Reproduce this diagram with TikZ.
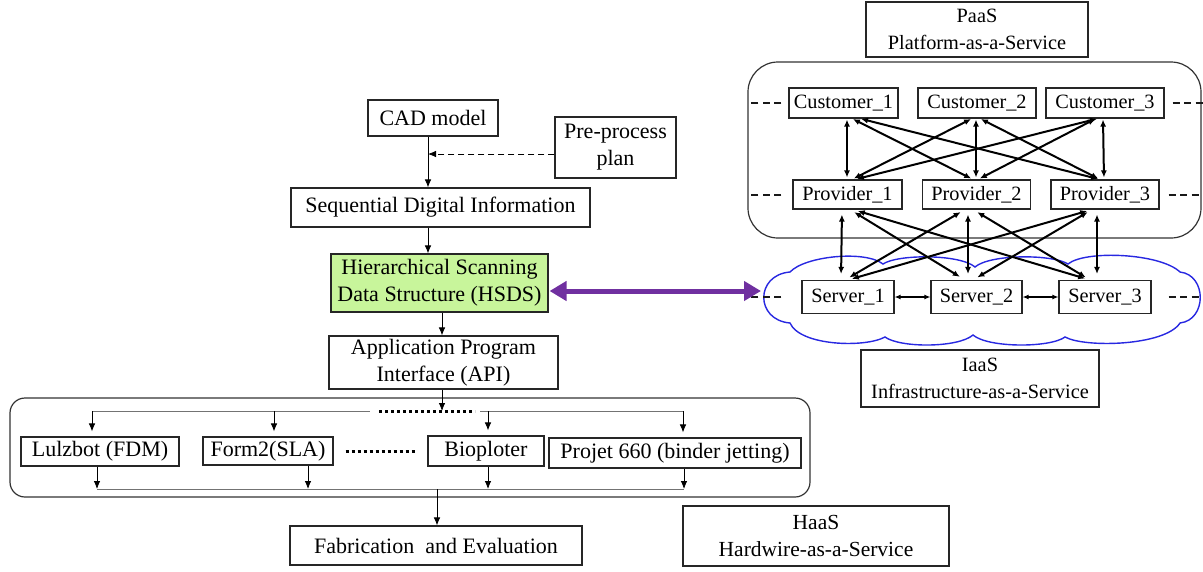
\documentclass[tikz,border=0pt]{standalone}
\usepackage{fontspec}
\setmainfont{Liberation Serif}
\usetikzlibrary{arrows.meta,calc}
\definecolor{hsdsgreen}{RGB}{200,245,155}
\definecolor{linkpurple}{RGB}{112,48,160}
\definecolor{cloudblue}{RGB}{40,40,225}
\begin{document}
\begin{tikzpicture}[x=1pt,y=-1pt,
  box/.style={draw=black!85,line width=1.1pt,inner sep=0pt,align=center,
    font=\fontsize{22}{27}\selectfont},
  rbox/.style={box,font=\fontsize{20.3}{27}\selectfont},
  container/.style={draw=black!80,line width=1.2pt},
  arr/.style={-{Latex[length=8pt,width=6.5pt]},line width=0.8pt,black},
  link/.style={{Latex[length=7pt,width=6pt]}-{Latex[length=7pt,width=6pt]},line width=2pt,black},
  srvlink/.style={{Latex[length=6pt,width=5pt]}-{Latex[length=6pt,width=5pt]},line width=1.2pt,black},
  bus/.style={line width=0.8pt,black!55},
  thickdot/.style={line width=3pt,dash pattern=on 3pt off 3pt},
  dashline/.style={line width=1.5pt,black!90,dash pattern=on 7pt off 4.5pt},
  purplelink/.style={{Triangle[length=17pt,width=19pt]}-{Triangle[length=17pt,width=19pt]},line width=5pt,linkpurple}]
\useasboundingbox (0,0) rectangle (1203,571);

% ---------- cloud (IaaS) ----------
\draw[cloudblue,line width=1.4pt,fill=white]
  (790,272) .. controls (805,256) and (865,250) .. (883,264)
  .. controls (898,254) and (960,254) .. (975,267)
  .. controls (990,254) and (1052,254) .. (1068,264)
  .. controls (1085,250) and (1160,253) .. (1180,272)
  .. controls (1207,275) and (1207,320) .. (1180,323)
  .. controls (1165,346) and (1085,348) .. (1065,337)
  .. controls (1050,348) and (988,348) .. (973,335)
  .. controls (958,348) and (900,348) .. (885,337)
  .. controls (865,348) and (800,346) .. (790,323)
  .. controls (755,320) and (755,275) .. cycle;

% ---------- PaaS container ----------
\draw[container,rounded corners=30pt] (748,62) rectangle (1201,238);

% ---------- right-hand nodes ----------
\node[rbox,minimum width=222pt,minimum height=55pt] (paas) at (977,29.5) {PaaS\\Platform-as-a-Service};
\node[rbox,minimum width=109pt,minimum height=30pt] (c1) at (843.5,103) {Customer\_1};
\node[rbox,minimum width=118pt,minimum height=30pt] (c2) at (977,103) {Customer\_2};
\node[rbox,minimum width=118pt,minimum height=30pt] (c3) at (1105,103) {Customer\_3};
\node[rbox,minimum width=109pt,minimum height=29pt] (p1) at (847.5,194.5) {Provider\_1};
\node[rbox,minimum width=108pt,minimum height=29pt] (p2) at (976.5,194.5) {Provider\_2};
\node[rbox,minimum width=108pt,minimum height=29pt] (p3) at (1105,194.5) {Provider\_3};
\node[rbox,minimum width=92pt,minimum height=33pt] (s1) at (848,297) {Server\_1};
\node[rbox,minimum width=91pt,minimum height=33pt] (s2) at (976.5,297) {Server\_2};
\node[rbox,minimum width=92pt,minimum height=33pt] (s3) at (1105,297) {Server\_3};
\node[rbox,minimum width=238pt,minimum height=57pt] (iaas) at (980,378.5) {IaaS\\Infrastructure-as-a-Service};
\node[box,font=\fontsize{21.5}{27}\selectfont,minimum width=266pt,minimum height=60pt] (haas) at (816,536) {HaaS\\Hardwire-as-a-Service};

% side dashes
\draw[dashline] ([xshift=-7pt]c1.west) -- ++(-30,0);
\draw[dashline] ([xshift=8pt]c3.east) -- ++(30,0);
\draw[dashline] ([xshift=-11pt,yshift=-0.5pt]p1.west) -- ++(-30,0);
\draw[dashline] ([xshift=9pt,yshift=-0.5pt]p3.east) -- ++(30,0);
\draw[dashline] ([xshift=-20pt]s1.west) -- ++(-30,0);
\draw[dashline] ([xshift=17pt]s3.east) -- ++(30,0);

% customer <-> provider
\draw[link,shorten <=1pt,shorten >=2pt] ([xshift=3.5pt]c1.south) -- ([xshift=-0.5pt]p1.north);
\draw[link,shorten <=1pt,shorten >=2pt] ([xshift=8.5pt]c1.south) -- ([xshift=-3.5pt]p2.north);
\draw[link,shorten <=1pt,shorten >=2pt] ([xshift=16.5pt]c1.south) -- ([xshift=-5pt]p3.north);
\draw[link,shorten <=1pt,shorten >=2pt] ([xshift=-5pt]c2.south) -- ([xshift=4.5pt]p1.north);
\draw[link,shorten <=1pt,shorten >=2pt] ([xshift=-1pt]c2.south) -- ([xshift=-0.5pt]p2.north);
\draw[link,shorten <=1pt,shorten >=2pt] ([xshift=3pt]c2.south) -- ([xshift=-5pt]p3.north);
\draw[link,shorten <=1pt,shorten >=2pt] ([xshift=-7pt]c3.south) -- ([xshift=7.5pt]p1.north);
\draw[link,shorten <=1pt,shorten >=2pt] ([xshift=-9pt]c3.south) -- ([xshift=1.5pt]p2.north);
\draw[link,shorten <=1pt,shorten >=2pt] ([xshift=-2pt]c3.south) -- ([xshift=-1pt]p3.north);

% provider <-> server
\draw[link,shorten <=5pt,shorten >=6pt] ([xshift=-5.5pt]p1.south) -- ([xshift=-7pt]s1.north);
\draw[link,shorten <=5pt,shorten >=6pt] ([xshift=2.5pt]p1.south) -- ([xshift=-11.5pt]s2.north);
\draw[link,shorten <=5pt,shorten >=5pt] ([xshift=5.5pt]p1.south) -- ([xshift=-15pt]s3.north);
\draw[link,shorten <=5pt,shorten >=5pt] ([xshift=-11.5pt]p2.south) -- ([xshift=-3pt]s1.north);
\draw[link,shorten <=5pt,shorten >=6pt] ([xshift=-8.5pt]p2.south) -- ([xshift=-8.5pt]s2.north);
\draw[link,shorten <=5pt,shorten >=5pt] ([xshift=-3.5pt]p2.south) -- ([xshift=-15pt]s3.north);
\draw[link,shorten <=5pt,shorten >=4pt] ([xshift=-13pt]p3.south) -- ([xshift=0pt]s1.north);
\draw[link,shorten <=5pt,shorten >=5pt] ([xshift=-13pt]p3.south) -- ([xshift=-3.5pt]s2.north);
\draw[link,shorten <=5pt,shorten >=6pt] ([xshift=-8pt]p3.south) -- ([xshift=-8pt]s3.north);

% server <-> server
\draw[srvlink] (s1.east) -- (s2.west);
\draw[srvlink] (s2.east) -- (s3.west);

% ---------- left-hand workflow ----------
\node[box,minimum width=130pt,minimum height=36pt] (cad) at (433,118) {CAD model};
\node[box,minimum width=121pt,minimum height=61pt] (pre) at (615.5,147.5) {Pre-process\\plan};
\node[box,minimum width=299pt,minimum height=39pt] (sdi) at (440.5,207.5) {Sequential Digital Information};
\node[box,fill=hsdsgreen,minimum width=217pt,minimum height=58pt] (hsds) at (439.5,283) {Hierarchical Scanning\\Data Structure (HSDS)};
\node[box,minimum width=229pt,minimum height=53pt] (api) at (443.5,362.5) {Application Program\\Interface (API)};

\draw[arr] ([xshift=-5pt]cad.south) -- ([xshift=-5pt]cad.south |- sdi.north);
\draw[arr,dash pattern=on 6pt off 4pt] ([yshift=-6.5pt]pre.west) -- ([xshift=-5pt,yshift=-6.5pt]cad.south |- pre.west);
\draw[arr] ([xshift=-12.5pt]sdi.south) -- ([xshift=-12.5pt]sdi.south |- hsds.north);
\draw[arr] ([xshift=2.5pt]hsds.south) -- ([xshift=2.5pt]hsds.south |- api.north);

% link to the cloud
\coordinate (cloudL) at (761,291);
\draw[purplelink,shorten <=1pt] ([yshift=-8pt]hsds.east) -- (cloudL);

% printers
\draw[container,rounded corners=15pt] (10,398) rectangle (810,497);
\node[box,minimum width=158pt,minimum height=29pt] (lulz) at (100,451.5) {Lulzbot (FDM)};
\node[box,minimum width=130pt,minimum height=28pt] (form) at (268,451) {Form2(SLA)};
\node[box,minimum width=116pt,minimum height=30pt] (bio) at (486,451) {Bioploter};
\node[box,minimum width=252pt,minimum height=30pt] (proj) at (675,453) {Projet 660 (binder jetting)};
\node[box,minimum width=292pt,minimum height=39pt] (fab) at (436,545.5) {Fabrication~ and Evaluation};

\coordinate (busL) at (92,411);
\coordinate (busF) at (274,411);
\coordinate (busA) at (370,411);
\coordinate (dotA) at (379,411);
\coordinate (dotB) at (475,411);
\coordinate (busB) at (480,411);
\coordinate (busBio) at (488,411);
\coordinate (busR) at (683,411);
\draw[bus] (busL) -- (busA);
\draw[bus] (busB) -- (busR);
\draw[thickdot] (dotA) -- (dotB);
\draw[arr] ([xshift=-1.5pt]api.south) -- ([xshift=-1.5pt]api.south |- busL);
\draw[arr] (busL) -- ([yshift=5pt]lulz.north -| busL);
\draw[arr] (busF) -- ([yshift=5pt]form.north -| busF);
\draw[arr] (busBio) -- ([yshift=5pt]bio.north -| busBio);
\draw[arr] (busR) -- ([yshift=5pt]proj.north -| busR);
\draw[thickdot] ([xshift=12pt]form.east) -- ([xshift=-10pt]bio.west);

\coordinate (botL) at (97,489);
\coordinate (botM) at (437,489);
\coordinate (botR) at (684,489);
\draw[bus] (botL) -- (botR);
\draw[arr] ([xshift=-3pt]lulz.south) -- ([xshift=-3pt]lulz.south |- botL);
\draw[arr] ([xshift=40pt]form.south) -- ([xshift=40pt]form.south |- botL);
\draw[arr] ([xshift=2pt]bio.south) -- ([xshift=2pt]bio.south |- botL);
\draw[arr] ([xshift=9pt]proj.south) -- ([xshift=9pt]proj.south |- botL);
\draw[arr] (botM) -- (botM |- fab.north);
\end{tikzpicture}
\end{document}
